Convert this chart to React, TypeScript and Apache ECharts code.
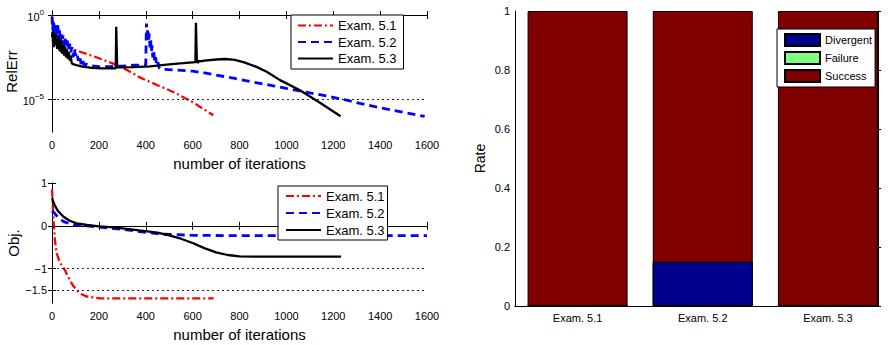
import React, { useEffect, useRef } from 'react';
import * as echarts from 'echarts';

// ---------- data ----------
const seriesNames = ['Exam. 5.1', 'Exam. 5.2', 'Exam. 5.3'];
const iterTicks = { min: 0, max: 1600, step: 200 };

// [iteration, log10(RelErr)]
const relErr51: [number, number][] = [
  [0, -0.05], [3, -0.4], [8, -0.8], [18, -1.1], [32, -1.4], [50, -1.65], [80, -1.95], [119, -2.17],
  [180, -2.45], [261, -2.87], [320, -3.25], [375, -3.69], [450, -4.15], [517, -4.55], [600, -5.15], [688, -5.93],
];
const relErr52: [number, number][] = [
  [0, -0.1], [3, -0.9], [6, -0.3], [9, -1.2], [12, -0.5], [15, -1.4], [18, -0.7], [21, -1.1], [25, -0.6],
  [28, -1.5], [32, -0.9], [36, -1.6], [40, -1.0], [44, -1.4], [48, -1.2], [52, -1.9], [56, -1.4], [60, -1.8],
  [65, -1.5], [70, -2.1], [75, -1.7], [80, -2.2], [85, -1.9], [90, -2.5], [95, -2.0], [100, -2.4], [106, -2.2],
  [112, -2.7], [118, -2.4], [124, -2.9], [130, -2.6], [136, -2.95], [145, -2.9], [160, -3.0], [200, -3.05],
  [250, -3.05], [300, -3.02], [350, -2.97], [400, -2.95], [403, -0.5], [406, -1.2], [409, -0.8], [412, -1.6],
  [415, -1.1], [418, -1.9], [421, -1.5], [424, -2.2], [427, -1.8], [430, -2.5], [434, -2.1], [438, -2.8],
  [442, -2.5], [447, -3.0], [452, -2.8], [458, -3.15], [470, -3.2], [520, -3.25], [600, -3.32], [650, -3.42],
  [700, -3.55], [780, -3.75], [850, -3.95], [950, -4.2], [1000, -4.34], [1100, -4.6], [1200, -4.87],
  [1257, -5.04], [1300, -5.18], [1400, -5.48], [1500, -5.75], [1590, -6.0],
];
const relErr53: [number, number][] = [
  [0, -1.3], [2, -1.0], [4, -1.6], [6, -1.2], [8, -1.9], [10, -1.3], [13, -1.1], [16, -1.8], [19, -1.4],
  [22, -2.0], [25, -1.5], [28, -1.2], [31, -2.1], [34, -1.6], [37, -2.2], [40, -1.5], [44, -2.3], [48, -1.8],
  [52, -2.4], [56, -1.9], [60, -2.5], [64, -2.0], [68, -2.6], [72, -2.2], [76, -2.7], [80, -2.4], [84, -2.85],
  [90, -2.9], [100, -2.95], [130, -3.05], [170, -3.12], [210, -3.16], [250, -3.16], [272, -3.15], [274, -0.7],
  [276, -0.7], [278, -3.1], [300, -3.1], [350, -3.08], [418, -3.04], [500, -2.92], [560, -2.85], [612, -2.78],
  [614, -0.45], [616, -0.45], [618, -2.7], [622, -2.85], [626, -2.7], [632, -2.74], [650, -2.7], [700, -2.63],
  [740, -2.6], [780, -2.65], [820, -2.8], [870, -3.05], [916, -3.36], [973, -3.85], [1058, -4.45],
  [1150, -5.25], [1231, -5.99],
];
const relErrLabelExps = [0, -5];
const relErrRange = { min: -6.92, max: 0.24 };

// [iteration, Obj.]
const obj51: [number, number][] = [
  [0, 0.85], [4, 0.4], [8, 0.0], [13, -0.35], [20, -0.64], [30, -0.8], [42, -0.93], [55, -1.03], [70, -1.2],
  [90, -1.4], [119, -1.58], [150, -1.65], [205, -1.69], [400, -1.69], [690, -1.69],
];
const obj52: [number, number][] = [
  [0, 0.35], [10, 0.3], [25, 0.2], [50, 0.1], [80, 0.04], [105, 0.02], [150, 0.0], [200, -0.03], [300, -0.08],
  [400, -0.15], [450, -0.18], [500, -0.2], [600, -0.22], [800, -0.23], [1600, -0.23],
];
const obj53: [number, number][] = [
  [0, 0.65], [10, 0.5], [25, 0.35], [48, 0.22], [75, 0.12], [105, 0.06], [150, 0.02], [200, -0.01],
  [250, -0.03], [300, -0.06], [380, -0.11], [450, -0.16], [500, -0.22], [550, -0.3], [600, -0.4], [650, -0.52],
  [700, -0.62], [750, -0.68], [800, -0.71], [880, -0.72], [1000, -0.72], [1233, -0.72],
];
const objTicks = [1, 0, -1, -1.5];
const objRange = { min: -1.8, max: 1 };

// bar chart (rates, stacked: Divergent, Failure, Success)
const examCategories = ['Exam. 5.1', 'Exam. 5.2', 'Exam. 5.3'];
const divergent = [0, 0.15, 0];
const failure = [0, 0, 0];
const success = [1, 0.85, 1];

// ---------- styling ----------
const FONT = '"Liberation Sans", Arial, Helvetica, sans-serif';
const lineStyleFor: Record<string, any> = {
  'Exam. 5.1': { color: '#ff0000', width: 2.3, type: [8, 3, 2, 3] },
  'Exam. 5.2': { color: '#0000ff', width: 2.8, type: [8, 5] },
  'Exam. 5.3': { color: '#000000', width: 2.3, type: 'solid' },
};

const axisLineBlack = { show: true, lineStyle: { color: '#000', width: 1 } };
const tickIn = { show: true, inside: true, length: 4, lineStyle: { color: '#000', width: 1 } };
const minus = (v: number) => (v < 0 ? '\u2212' + Math.abs(v) : String(v));

function buildOption() {
  const iterAxis = (gridIndex: number, bottom: boolean) => ({
    type: 'value',
    gridIndex,
    position: bottom ? 'bottom' : 'top',
    min: iterTicks.min,
    max: iterTicks.max,
    interval: iterTicks.step,
    axisLine: axisLineBlack,
    axisTick: tickIn,
    axisLabel: {
      show: bottom,
      fontSize: 11,
      color: '#000',
      margin: 7,
      fontFamily: FONT,
      formatter: (v: number) => String(v),
    },
    splitLine: { show: false },
    name: bottom ? 'number of iterations' : '',
    nameLocation: 'middle',
    nameGap: 24,
    nameTextStyle: { fontSize: 15, color: '#000', fontFamily: FONT },
  });

  const relAxis = (left: boolean) => ({
    type: 'value',
    gridIndex: 0,
    position: left ? 'left' : 'right',
    min: relErrRange.min,
    max: relErrRange.max,
    axisLine: axisLineBlack,
    axisTick: { ...tickIn, customValues: relErrLabelExps },
    axisLabel: {
      show: left,
      customValues: relErrLabelExps,
      margin: 8,
      formatter: (v: number) => '{b|10}{s|' + minus(v) + '}',
      rich: {
        b: { fontSize: 11, color: '#000', fontFamily: FONT, verticalAlign: 'bottom', lineHeight: 14 },
        s: { fontSize: 8, color: '#000', fontFamily: FONT, verticalAlign: 'top', lineHeight: 14 },
      },
    },
    splitLine: { show: false },
    name: left ? 'RelErr' : '',
    nameLocation: 'middle',
    nameGap: 31,
    nameTextStyle: { fontSize: 15, color: '#000', fontFamily: FONT },
  });

  const objAxis = (left: boolean) => ({
    type: 'value',
    gridIndex: 1,
    position: left ? 'left' : 'right',
    min: objRange.min,
    max: objRange.max,
    axisLine: axisLineBlack,
    axisTick: { ...tickIn, customValues: objTicks },
    axisLabel: {
      show: left,
      customValues: objTicks,
      margin: 5,
      fontSize: 11,
      color: '#000',
      fontFamily: FONT,
      formatter: (v: number) => minus(v),
    },
    splitLine: { show: false },
    name: left ? 'Obj.' : '',
    nameLocation: 'middle',
    nameGap: 31,
    nameTextStyle: { fontSize: 15, color: '#000', fontFamily: FONT },
  });

  const gridLine = (vals: number[]) => ({
    silent: true,
    symbol: ['none', 'none'],
    label: { show: false },
    lineStyle: { color: '#000', width: 1, type: [2, 3], opacity: 0.85 },
    emphasis: { disabled: true },
    data: vals.map((v) => ({ yAxis: v })),
  });

  const lineSeries = (name: string, data: [number, number][], xi: number, yi: number, mark?: any) => ({
    type: 'line',
    name,
    xAxisIndex: xi,
    yAxisIndex: yi,
    data,
    symbol: 'none',
    showSymbol: false,
    lineStyle: lineStyleFor[name],
    itemStyle: { color: lineStyleFor[name].color },
    markLine: mark,
    z: 3,
  });

  // stacked segments: each series drawn up to its cumulative top, later series on top
  const cumulative = (...arrs: number[][]) => arrs[0].map((_, i) => arrs.reduce((s, a) => s + a[i], 0));
  const barSeries = (name: string, tops: number[], color: string) => ({
    type: 'bar',
    name,
    xAxisIndex: 4,
    yAxisIndex: 4,
    barWidth: 100,
    barGap: '-100%',
    data: tops.map((v, i) => [i + 1, v]),
    itemStyle: { color, borderColor: '#000', borderWidth: 1 },
  });

  const lineLegend = (left: number, top: number, padding: number[], itemGap: number) => ({
    show: true,
    data: seriesNames,
    orient: 'vertical',
    left,
    top,
    z: 20,
    padding,
    itemGap,
    itemWidth: 35,
    itemHeight: 14,
    borderColor: '#000',
    borderWidth: 1,
    backgroundColor: '#fff',
    itemStyle: { opacity: 0, color: 'transparent', borderWidth: 0 },
    textStyle: { fontSize: 13, color: '#000', fontFamily: FONT },
    selectedMode: false,
  });

  return {
    animation: false,
    backgroundColor: '#fff',
    textStyle: { fontFamily: FONT },
    grid: [
      { left: 52, top: 11, width: 375, height: 121, outerBoundsMode: 'none' },
      { left: 52, top: 183, width: 375, height: 120, outerBoundsMode: 'none' },
      { left: 515, top: 11, width: 363, height: 295, outerBoundsMode: 'none' },
    ],
    xAxis: [
      iterAxis(0, true),
      iterAxis(0, false),
      iterAxis(1, true),
      iterAxis(1, false),
      {
        type: 'value',
        gridIndex: 2,
        position: 'bottom',
        min: 0.5,
        max: 3.4,
        axisLine: axisLineBlack,
        axisTick: { show: false },
        axisLabel: {
          customValues: [1, 2, 3],
          formatter: (v: number) => examCategories[Math.round(v) - 1] ?? '',
          fontSize: 11,
          color: '#000',
          margin: 6,
          fontFamily: FONT,
        },
        splitLine: { show: false },
      },
      {
        type: 'value',
        gridIndex: 2,
        position: 'top',
        min: 0.5,
        max: 3.4,
        axisLine: axisLineBlack,
        axisTick: { show: false },
        axisLabel: { show: false },
        splitLine: { show: false },
      },
    ],
    yAxis: [
      relAxis(true),
      relAxis(false),
      objAxis(true),
      objAxis(false),
      {
        type: 'value',
        gridIndex: 2,
        position: 'left',
        min: 0,
        max: 1,
        interval: 0.2,
        axisLine: axisLineBlack,
        axisTick: { show: false },
        axisLabel: { fontSize: 11, color: '#000', margin: 5, fontFamily: FONT },
        splitLine: { show: false },
        name: 'Rate',
        nameLocation: 'middle',
        nameGap: 28,
        nameTextStyle: { fontSize: 14, color: '#000', fontFamily: FONT },
      },
      {
        type: 'value',
        gridIndex: 2,
        position: 'right',
        min: 0,
        max: 1,
        interval: 0.2,
        axisLine: axisLineBlack,
        axisTick: { show: true, inside: false, length: 3, lineStyle: { color: '#000' } },
        axisLabel: { show: false },
        splitLine: { show: false },
      },
    ],
    legend: [
      lineLegend(291, 15, [4, 7, 4, 6], 3.5),
      lineLegend(278, 186, [3.5, 3, 3.5, 7], 4),
      {
        show: true,
        data: ['Divergent', 'Failure', 'Success'],
        orient: 'vertical',
        left: 777,
        top: 29,
        z: 20,
        padding: [4, 3, 4, 7],
        itemGap: 4,
        itemWidth: 35,
        itemHeight: 12,
        icon: 'rect',
        borderColor: '#000',
        borderWidth: 1,
        backgroundColor: '#fff',
        textStyle: { fontSize: 11, color: '#000', fontFamily: FONT },
        selectedMode: false,
      },
    ],
    series: [
      lineSeries('Exam. 5.1', relErr51, 0, 0, gridLine(relErrLabelExps)),
      lineSeries('Exam. 5.2', relErr52, 0, 0),
      lineSeries('Exam. 5.3', relErr53, 0, 0),
      lineSeries('Exam. 5.1', obj51, 2, 2, gridLine([0, -1, -1.5])),
      lineSeries('Exam. 5.2', obj52, 2, 2),
      lineSeries('Exam. 5.3', obj53, 2, 2),
      barSeries('Success', cumulative(divergent, failure, success), '#800000'),
      barSeries('Failure', cumulative(divergent, failure), '#80ff80'),
      barSeries('Divergent', cumulative(divergent), '#00008f'),
    ],
  };
}

export default function App() {
  const ref = useRef<HTMLDivElement>(null);
  useEffect(() => {
    if (!ref.current) return;
    const chart = echarts.init(ref.current, undefined, { renderer: 'svg' });
    chart.setOption(buildOption() as any);
    return () => chart.dispose();
  }, []);
  return (
    <div
      ref={ref}
      style={{ position: 'absolute', left: 0, top: 0, width: 889, height: 345, background: '#fff' }}
    />
  );
}
